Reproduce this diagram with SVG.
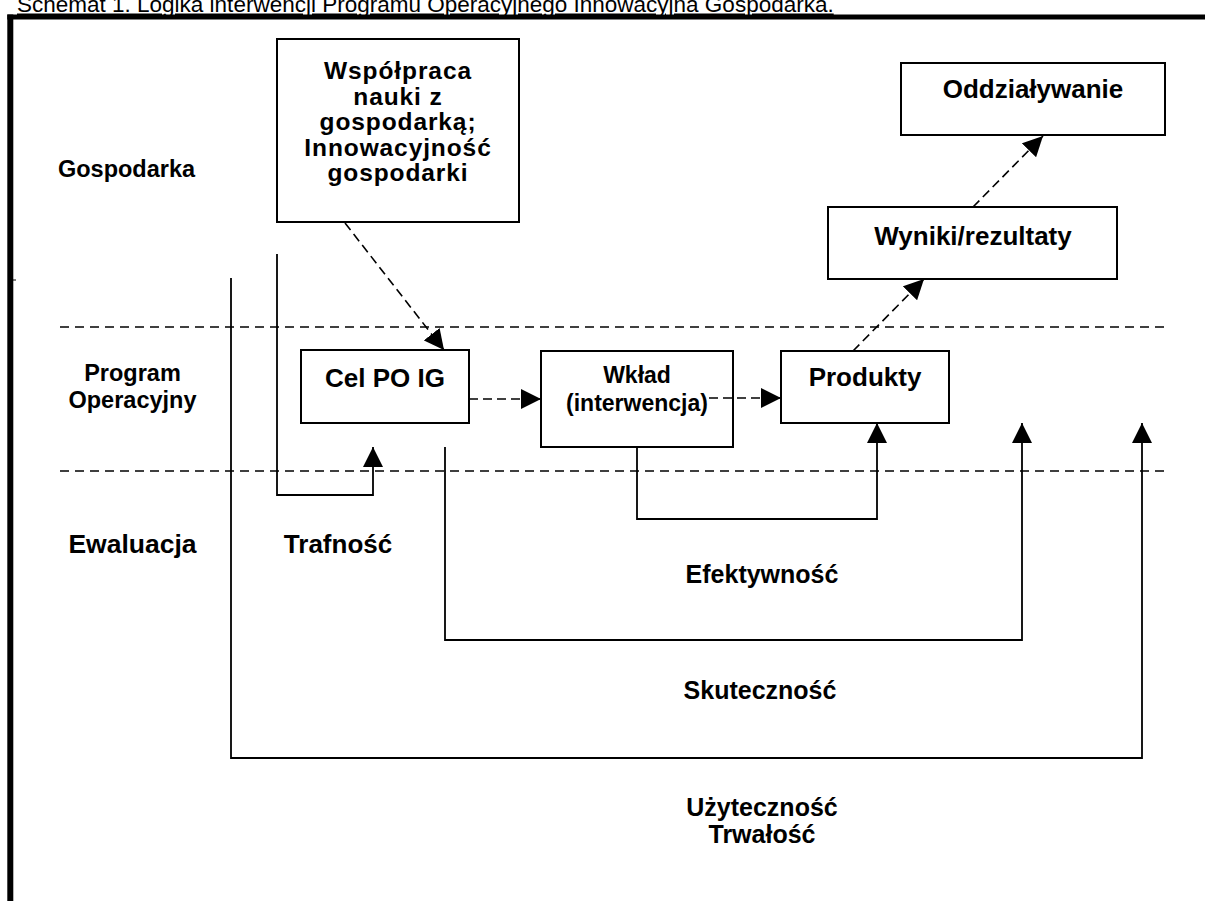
<svg xmlns="http://www.w3.org/2000/svg" width="1205" height="901" viewBox="0 0 1205 901">
<defs>
<style>
.t{font-family:"Liberation Sans",Arial,sans-serif;fill:#000}
.b{font-family:"Liberation Sans",Arial,sans-serif;font-weight:bold;text-anchor:middle;fill:#000}
.box{fill:#fff;stroke:#000;stroke-width:2}
.guide{stroke:#000;stroke-width:1.6;stroke-dasharray:9 6;fill:none}
.dash{stroke:#000;stroke-width:1.6;stroke-dasharray:9 5;fill:none}
.solid{stroke:#000;stroke-width:1.8;fill:none}
</style>
<marker id="ah" markerUnits="userSpaceOnUse" markerWidth="20" markerHeight="20" refX="20" refY="10" orient="auto">
<path d="M0,0 L20,10 L0,20 z" fill="#000"/>
</marker>
</defs>
<rect width="1205" height="901" fill="#fff"/>
<text class="t" x="17" y="11.5" font-size="22.5" text-decoration="underline">Schemat 1. Logika interwencji Programu Operacyjnego Innowacyjna Gospodarka.</text>
<g id="frame">
<line x1="10.3" y1="14.5" x2="10.3" y2="901" stroke="#000" stroke-width="6"/>
<line x1="7.3" y1="17" x2="1205" y2="17" stroke="#000" stroke-width="5"/>
<line x1="13" y1="280" x2="16" y2="280" stroke="#000" stroke-width="1"/>
</g>
<g id="guides">
<line class="guide" x1="60" y1="327" x2="1170" y2="327"/>
<line class="guide" x1="60" y1="471" x2="1170" y2="471"/>
</g>
<g id="labels">
<text class="b" x="126.5" y="177" font-size="23.5">Gospodarka</text>
<text class="b" x="132.5" y="381" font-size="23.5">Program</text>
<text class="b" x="132.5" y="408" font-size="23.5">Operacyjny</text>
<text class="b" x="132.5" y="553" font-size="26.5">Ewaluacja</text>
<text class="b" x="338" y="553" font-size="26">Trafność</text>
<text class="b" x="762" y="583" font-size="25">Efektywność</text>
<text class="b" x="760" y="699" font-size="25">Skuteczność</text>
<text class="b" x="762" y="816" font-size="25">Użyteczność</text>
<text class="b" x="762" y="843" font-size="25">Trwałość</text>
</g>
<g id="connectors">
<line class="dash" x1="345" y1="223" x2="444" y2="350" marker-end="url(#ah)"/>
<line class="dash" x1="469" y1="399" x2="541" y2="399" marker-end="url(#ah)"/>
<line class="dash" x1="853" y1="351" x2="924" y2="279" marker-end="url(#ah)"/>
<line class="dash" x1="973" y1="207" x2="1043" y2="136" marker-end="url(#ah)"/>
<path class="solid" d="M277,254 V495 H373 V447" marker-end="url(#ah)"/>
<path class="solid" d="M637,447 V519 H877 V423" marker-end="url(#ah)"/>
<path class="solid" d="M445,447 V640 H1022 V423" marker-end="url(#ah)"/>
<path class="solid" d="M231,278 V758 H1142 V423" marker-end="url(#ah)"/>
</g>
<g id="node-wspolpraca">
<rect class="box" x="277" y="39" width="242" height="183"/>
<g font-size="24.5" letter-spacing="0.9">
<text class="b" x="398" y="79">Współpraca</text>
<text class="b" x="398" y="104.5">nauki z</text>
<text class="b" x="398" y="130">gospodarką;</text>
<text class="b" x="398" y="155.5">Innowacyjność</text>
<text class="b" x="398" y="181">gospodarki</text>
</g>
</g>
<g id="node-cel">
<rect class="box" x="301" y="350" width="168" height="73"/>
<text class="b" x="385" y="387" font-size="26">Cel PO IG</text>
</g>
<g id="node-wklad">
<rect class="box" x="541" y="351" width="192" height="96"/>
<text class="b" x="637" y="383" font-size="23">Wkład</text>
<text class="b" x="637" y="411" font-size="23">(interwencja)</text>
</g>
<line class="dash" x1="709" y1="398" x2="781" y2="398" marker-end="url(#ah)"/>
<g id="node-produkty">
<rect class="box" x="781" y="351" width="168" height="72"/>
<text class="b" x="865" y="386" font-size="26">Produkty</text>
</g>
<g id="node-wyniki">
<rect class="box" x="828" y="207" width="289" height="72"/>
<text class="b" x="973" y="245" font-size="26">Wyniki/rezultaty</text>
</g>
<g id="node-oddzialywanie">
<rect class="box" x="901" y="63" width="264" height="72"/>
<text class="b" x="1033" y="98" font-size="26">Oddziaływanie</text>
</g>
</svg>
